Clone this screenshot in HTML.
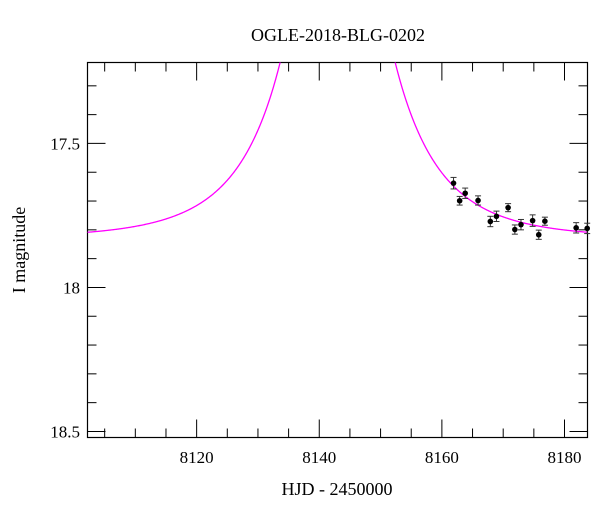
<!DOCTYPE html>
<html><head><meta charset="utf-8"><style>
body{margin:0;background:#fff}
svg{display:block;font-family:"Liberation Serif",serif}
</style></head><body>
<svg id="chart" width="600" height="512">
<text x="338" y="41" text-anchor="middle" font-size="18">OGLE-2018-BLG-0202</text>
<text x="337" y="495" text-anchor="middle" font-size="18">HJD - 2450000</text>
<text transform="translate(25,250) rotate(-90)" text-anchor="middle" font-size="18">I magnitude</text>
<g id="axes"></g>
<g id="model"></g>
<g id="points"></g>
</svg>
<script>
const hjd=[8161.9,8162.9,8163.8,8165.9,8167.9,8168.9,8170.8,8171.9,8172.9,8174.8,8175.8,8176.8,8181.9,8183.7];
const mag=[17.638,17.699,17.673,17.698,17.771,17.753,17.723,17.799,17.782,17.768,17.817,17.770,17.793,17.795];
const err=[0.02,0.015,0.018,0.016,0.018,0.018,0.014,0.016,0.018,0.02,0.016,0.014,0.018,0.018];
const xTicks=[8120,8140,8160,8180];
const yTicks=[17.5,18,18.5];
const modelParams=[8143,14.3,0.05,17.83]; // t0, tE, u0, baseline
const L=87.5,R=587.5,T=62.5,B=437.5;
const X0=8102.2,X1=8183.75,Y0=17.219,Y1=18.521;
const sx=v=>L+(v-X0)/(X1-X0)*(R-L);
const sy=v=>T+(v-Y0)/(Y1-Y0)*(B-T);
const NS="http://www.w3.org/2000/svg";
function mk(tag,at,parent){const e=document.createElementNS(NS,tag);for(const k in at)e.setAttribute(k,at[k]);parent.appendChild(e);return e;}
const ax=document.getElementById('axes');
const frame=mk('rect',{x:L,y:T,width:R-L,height:B-T,fill:'none',stroke:'#000','stroke-width':1.2},ax);


for(let v=8105;v<=8180;v+=5){
  const x=sx(v),big=v%20===0,len=big?18:9;
  const t1=mk('line',{x1:x,x2:x,y1:B,y2:B-len,stroke:'#000'},ax);
  
  
  const t2=mk('line',{x1:x,x2:x,y1:T,y2:T+len,stroke:'#000'},ax);
  
  
}
xTicks.forEach(v=>{
  const t=mk('text',{x:sx(v),y:463,'text-anchor':'middle','font-size':17},ax);t.textContent=v;
  
  
});
for(let i=3;i<=15;i++){
  const v=17+i*0.1,y=sy(v),big=(i%5===0),len=big?18:9;
  const t1=mk('line',{x1:L,x2:L+len,y1:y,y2:y,stroke:'#000'},ax);
  
  
  const t2=mk('line',{x1:R,x2:R-len,y1:y,y2:y,stroke:'#000'},ax);
  
  
}
yTicks.forEach(v=>{
  const t=mk('text',{x:80,y:sy(v)+6,'text-anchor':'end','font-size':17},ax);t.textContent=v;
  
  
});
const [t0,tE,u0,base]=modelParams;
function modelMag(t){const tau=(t-t0)/tE,u=Math.sqrt(u0*u0+tau*tau);const A=(u*u+2)/(u*Math.sqrt(u*u+4));return base-2.5*Math.log10(A);}
let d='';
for(let t=X0;t<=X1;t+=0.1){d+=(d?'L':'M')+sx(t).toFixed(2)+','+sy(modelMag(t)).toFixed(2);}
const cp=mk('clipPath',{id:'clip'},document.getElementById('chart'));
mk('rect',{x:L,y:T,width:R-L,height:B-T},cp);
const mp=mk('path',{d:d,fill:'none',stroke:'#ff00ff','stroke-width':1.3,'clip-path':'url(#clip)'},document.getElementById('model'));


const pg=document.getElementById('points');
hjd.forEach((t,i)=>{
  const x=sx(t),y=sy(mag[i]),y1=sy(mag[i]-err[i]),y2=sy(mag[i]+err[i]);
  const g=mk('g',{},pg);
  
  
  mk('line',{x1:x,x2:x,y1:y1,y2:y2,stroke:'#333'},g);
  mk('line',{x1:x-3,x2:x+3,y1:y1,y2:y1,stroke:'#333'},g);
  mk('line',{x1:x-3,x2:x+3,y1:y2,y2:y2,stroke:'#333'},g);
  mk('circle',{cx:x,cy:y,r:2.8,fill:'#000'},g);
});
</script>
</body></html>
